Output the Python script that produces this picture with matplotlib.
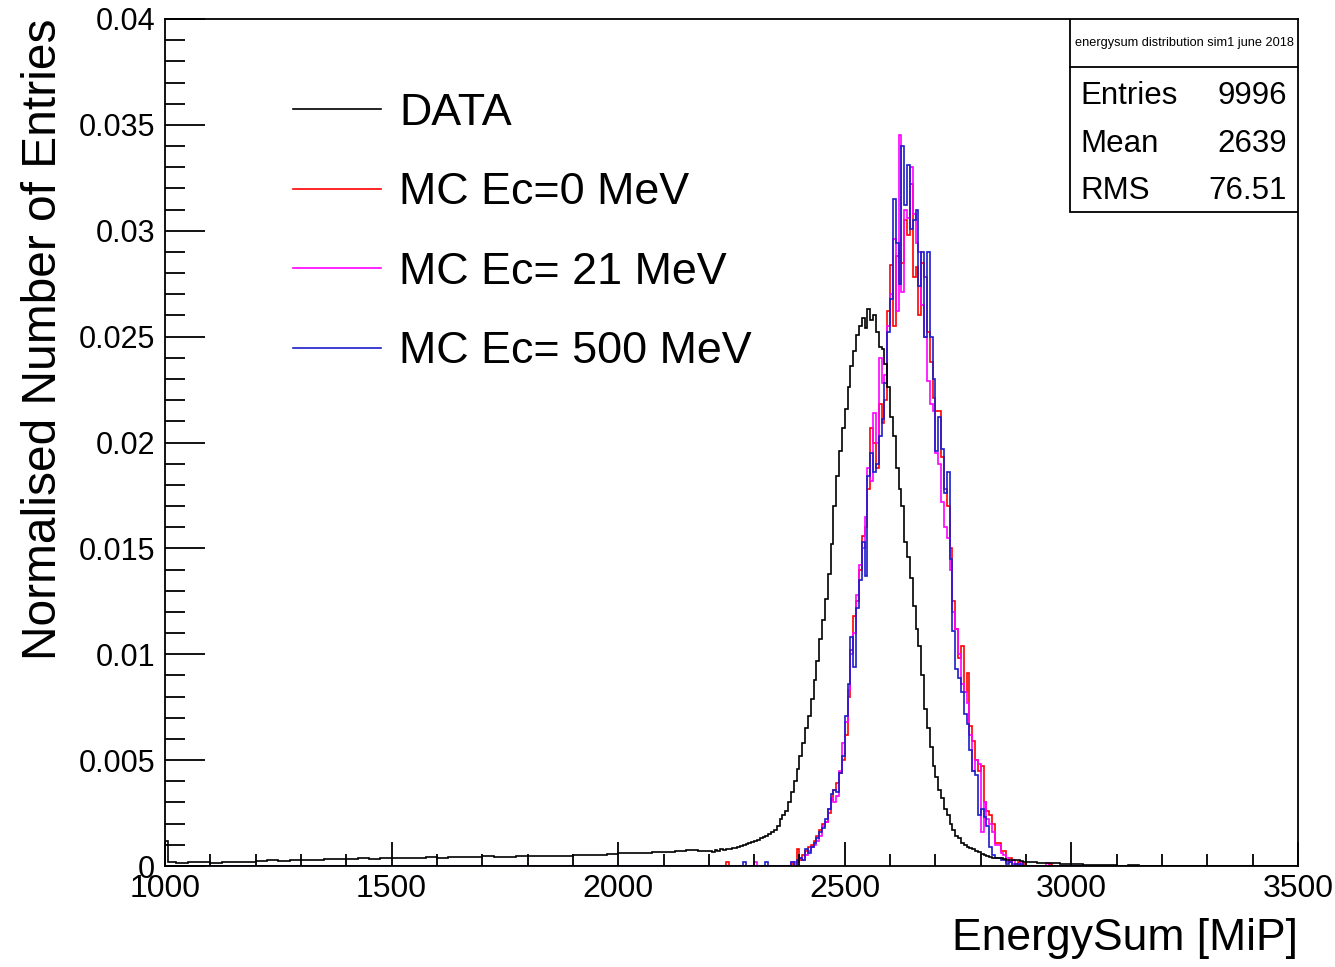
import numpy as np
import matplotlib
matplotlib.use("Agg")
import matplotlib.pyplot as plt
from matplotlib.lines import Line2D
from matplotlib.patches import Rectangle
from matplotlib.ticker import MultipleLocator, FixedLocator

plt.rcParams['font.family'] = ['Liberation Sans', 'DejaVu Sans']

# ---------------- data ----------------
# DATA histogram: tail (1000-2200, coarse bins), core (2200-2900, 6.25 bins), high tail (2900-3500)
data_spike_edges = [1000.0, 1006.25]
data_spike = [0.0012]
data_tail_lo = [0.00018, 0.00012, 0.00018, 0.00018, 0.00014, 0.00018, 0.00018, 0.00018,
                0.00024, 0.00026, 0.00024, 0.00028, 0.00030, 0.00028, 0.00033, 0.00031,
                0.00035, 0.00037, 0.00035, 0.00038, 0.00036, 0.00040, 0.00038, 0.00041,
                0.00039, 0.00043, 0.00041, 0.00042, 0.00045, 0.00043, 0.00044, 0.00046,
                0.00045, 0.00048, 0.00046, 0.00049, 0.00052, 0.00050, 0.00053, 0.00055,
                0.00060, 0.00063, 0.00061, 0.00066, 0.00068, 0.00072, 0.00074, 0.00071]
data_core = [0.00070, 0.00068, 0.00074, 0.00072, 0.00078, 0.00076, 0.00080, 0.00082,
             0.00086, 0.00084, 0.00090, 0.00094, 0.00098, 0.00104, 0.00110, 0.00112,
             0.00118, 0.00124, 0.00130, 0.00136, 0.00144, 0.00150, 0.00160, 0.00172,
             0.0019, 0.0022, 0.0024, 0.0026, 0.0030, 0.0035, 0.0040, 0.0046,
             0.0052, 0.0058, 0.0065, 0.0071, 0.0079, 0.0088, 0.0097, 0.0107,
             0.0116, 0.0126, 0.0138, 0.0152, 0.0170, 0.0184, 0.0196, 0.0207,
             0.0216, 0.0226, 0.0236, 0.0243, 0.0251, 0.0255, 0.0259, 0.0254,
             0.0263, 0.0258, 0.0260, 0.0252, 0.0245, 0.0244, 0.0237, 0.0226,
             0.0212, 0.0203, 0.0188, 0.0178, 0.0170, 0.0153, 0.0146, 0.0136,
             0.0123, 0.0112, 0.0104, 0.0090, 0.0074, 0.0065, 0.0056, 0.0047,
             0.0042, 0.0036, 0.0032, 0.0027, 0.0024, 0.0020, 0.0017, 0.0014,
             0.0013, 0.0011, 0.0010, 0.0009, 0.00085, 0.00078, 0.00070, 0.00064,
             0.00058, 0.00050, 0.00046, 0.00042, 0.00040, 0.00038, 0.00036, 0.00036,
             0.00032, 0.00030, 0.00030, 0.00028, 0.00026, 0.00028, 0.00022, 0.00020]
data_tail_hi = [0.00018, 0.00015, 0.00012, 0.00010, 0.00008, 0.00005, 0.00006, 0.00003,
                0.00002, 0.00003, 0.00001, 0.00002, 0.00001, 0.00002, 0.00001, 0.0,
                0.00001, 0.00001, 0.0, 0.00001, 0.0, 0.00001, 0.00001, 0.0]

# MC histograms: 6.25-wide bins over 1000-3500, non-zero region starts at 2375
mc_start = 2375.0
mc_ec0 = ([0.0, 0.0001, 0.0002, 0.0008] +
          [0.0003, 0.0005, 0.0007, 0.0009, 0.0010, 0.0012, 0.0014, 0.0017, 0.0020, 0.0021, 0.0025, 0.0031, 0.0036, 0.0039, 0.0044, 0.0050] +
          [0.0062, 0.0080, 0.0102, 0.0118, 0.0125, 0.0140, 0.0156, 0.0160, 0.0178, 0.0207, 0.0200, 0.0188, 0.0218, 0.0209, 0.0220, 0.0262] +
          [0.0284, 0.0255, 0.0288, 0.0290, 0.0285, 0.0305, 0.0298, 0.0322, 0.0278, 0.0283, 0.0260, 0.0285, 0.0278, 0.0252, 0.0238, 0.0221] +
          [0.0215, 0.0215, 0.0193, 0.0178, 0.0170, 0.0150, 0.0125, 0.0112, 0.0098, 0.0104, 0.0082, 0.0091, 0.0066, 0.0059, 0.0050, 0.0045] +
          [0.0047, 0.0030, 0.0026, 0.0024, 0.0020, 0.0011, 0.0011, 0.0007, 0.0007, 0.0002, 0.0004, 0.0001, 0.0001, 0.0002, 0.0, 0.0001])
mc_ec21 = ([0.0, 0.0002, 0.0001, 0.0002] +
           [0.0004, 0.0003, 0.0005, 0.0007, 0.0009, 0.0010, 0.0012, 0.0014, 0.0019, 0.0021, 0.0027, 0.0032, 0.0030, 0.0033, 0.0045, 0.0058] +
           [0.0068, 0.0083, 0.0100, 0.0110, 0.0128, 0.0142, 0.0150, 0.0165, 0.0188, 0.0182, 0.0214, 0.0200, 0.0240, 0.0228, 0.0232, 0.0255] +
           [0.0270, 0.0296, 0.0262, 0.0345, 0.0271, 0.0310, 0.0306, 0.0330, 0.0308, 0.0294, 0.0290, 0.0265, 0.0250, 0.0229, 0.0218, 0.0215] +
           [0.0195, 0.0190, 0.0172, 0.0160, 0.0155, 0.0140, 0.0120, 0.0112, 0.0100, 0.0086, 0.0082, 0.0077, 0.0062, 0.0045, 0.0050, 0.0048] +
           [0.0016, 0.0030, 0.0022, 0.0020, 0.0016, 0.0010, 0.0010, 0.0006, 0.0005, 0.0004, 0.0002, 0.0003, 0.0, 0.0001, 0.0002, 0.0])
mc_ec500 = ([0.0, 0.0002, 0.0, 0.0003] +
            [0.0004, 0.0003, 0.0008, 0.0006, 0.0009, 0.0011, 0.0013, 0.0016, 0.0018, 0.0022, 0.0027, 0.0034, 0.0036, 0.0035, 0.0044, 0.0052] +
            [0.0071, 0.0086, 0.0108, 0.0094, 0.0122, 0.0135, 0.0153, 0.0137, 0.0184, 0.0195, 0.0186, 0.0190, 0.0203, 0.0211, 0.0228, 0.0252] +
            [0.0268, 0.0315, 0.0294, 0.0275, 0.0340, 0.0312, 0.0331, 0.0301, 0.0305, 0.0310, 0.0274, 0.0290, 0.0250, 0.0290, 0.0250, 0.0230] +
            [0.0196, 0.0212, 0.0197, 0.0176, 0.0186, 0.0145, 0.0111, 0.0093, 0.0089, 0.0082, 0.0072, 0.0067, 0.0055, 0.0045, 0.0043, 0.0024] +
            [0.0027, 0.0023, 0.0019, 0.0009, 0.0005, 0.0004, 0.0004, 0.0003, 0.0003, 0.0001, 0.0002, 0.0, 0.0001, 0.0, 0.0001, 0.0])
# isolated single entries outside the core region (bin lower edge: value)
mc_ec0_extra = {2237.5: 0.0002, 2950.0: 0.0001}
mc_ec21_extra = {2300.0: 0.0002, 2943.75: 0.00015}
mc_ec500_extra = {2275.0: 0.0002, 2325.0: 0.0002}

labels = ["DATA", "MC Ec=0 MeV", "MC Ec= 21 MeV", "MC Ec= 500 MeV"]
colors = ["black", "#ff0000", "#ff00ff", "#1c1cc8"]

x_ticks = [1000, 1500, 2000, 2500, 3000, 3500]
x_ticklabels = ["1000", "1500", "2000", "2500", "3000", "3500"]
y_ticks = [0, 0.005, 0.01, 0.015, 0.02, 0.025, 0.03, 0.035, 0.04]
y_ticklabels = ["0", "0.005", "0.01", "0.015", "0.02", "0.025", "0.03", "0.035", "0.04"]

stats_title = "energysum distribution sim1 june 2018"
stats_names = ["Entries", "Mean", "RMS"]
stats_values = ["9996", "2639", "76.51"]

# ---------------- build histograms ----------------
bw = 6.25
data_edges = np.concatenate([
    data_spike_edges,
    np.arange(1025.0, 2200.0 + 1e-6, 25.0),
    np.arange(2200.0 + bw, 2900.0 + 1e-6, bw),
    np.arange(2925.0, 3500.0 + 1e-6, 25.0)])
data_vals = np.array(data_spike + data_tail_lo + data_core + data_tail_hi)

mc_edges = np.arange(1000.0, 3500.0 + 1e-6, bw)


def mc_hist(core, extra):
    v = np.zeros(len(mc_edges) - 1)
    i0 = int(round((mc_start - 1000.0) / bw))
    v[i0:i0 + len(core)] = core
    for xe, val in extra.items():
        v[int(round((xe - 1000.0) / bw))] = val
    return v


W, H = 1335, 967
fig = plt.figure(figsize=(W / 100, H / 100), dpi=100)
L, R, T, B = 165, 1298, 19, 866
ax = fig.add_axes([L / W, 1 - B / H, (R - L) / W, (B - T) / H])

lw = 1.2
ax.stairs(mc_hist(mc_ec0, mc_ec0_extra), mc_edges, color=colors[1], lw=lw)
ax.stairs(mc_hist(mc_ec21, mc_ec21_extra), mc_edges, color=colors[2], lw=lw)
ax.stairs(mc_hist(mc_ec500, mc_ec500_extra), mc_edges, color=colors[3], lw=lw)
ax.stairs(data_vals, data_edges, color=colors[0], lw=lw)

ax.set_xlim(1000, 3500)
ax.set_ylim(0, 0.04)

for s in ax.spines.values():
    s.set_linewidth(1.3)

ax.xaxis.set_major_locator(FixedLocator(x_ticks))
ax.set_xticklabels(x_ticklabels)
ax.xaxis.set_minor_locator(MultipleLocator(100))
ax.yaxis.set_major_locator(FixedLocator(y_ticks))
ax.set_yticklabels(y_ticklabels)
ax.yaxis.set_minor_locator(MultipleLocator(0.001))
ax.tick_params(axis='x', which='major', direction='in', length=17, width=1.3,
               labelsize=23, pad=6, top=False)
ax.tick_params(axis='x', which='minor', direction='in', length=9, width=1.3, top=False)
ax.tick_params(axis='y', which='major', direction='in', length=29, width=1.3,
               labelsize=22, pad=7, right=False)
ax.tick_params(axis='y', which='minor', direction='in', length=14.5, width=1.3, right=False)

ax.set_xlabel("EnergySum [MiP]", fontsize=32, loc='right')
ax.xaxis.set_label_coords(1.0, -0.061)
ax.set_ylabel("Normalised Number of Entries", fontsize=34.5, loc='top')
ax.yaxis.set_label_coords(-0.087, 1.0)

handles = [Line2D([], [], color=c, lw=lw) for c in colors]
leg = ax.legend(handles, labels, loc='upper left', bbox_to_anchor=(0.113, 0.913),
                frameon=False, fontsize=32.3, handlelength=1.96, handletextpad=0.41,
                labelspacing=0.86, borderpad=0, borderaxespad=0)

# stats box
bx0 = (1070 - L) / (R - L)
by0 = (B - 212) / (B - T)
by_line = (B - 67) / (B - T)
ax.add_patch(Rectangle((bx0, by0), 1 - bx0, 1 - by0, transform=ax.transAxes,
                       fill=True, facecolor='white', edgecolor='black', lw=1.3, zorder=5))
ax.plot([bx0, 1], [by_line, by_line], transform=ax.transAxes, color='black', lw=1.3, zorder=6)
ax.text((bx0 + 1) / 2, (by_line + 1) / 2, stats_title, transform=ax.transAxes,
        ha='center', va='center', fontsize=9.2, zorder=7)
row_y = [(B - 96) / (B - T), (B - 144) / (B - T), (B - 191) / (B - T)]
for name, val, yy in zip(stats_names, stats_values, row_y):
    ax.text((1080 - L) / (R - L), yy, name, transform=ax.transAxes, ha='left', va='center',
            fontsize=22.5, zorder=7)
    ax.text((1287 - L) / (R - L), yy, val, transform=ax.transAxes, ha='right', va='center',
            fontsize=22.5, zorder=7)

fig.savefig("out.png", dpi=100)
